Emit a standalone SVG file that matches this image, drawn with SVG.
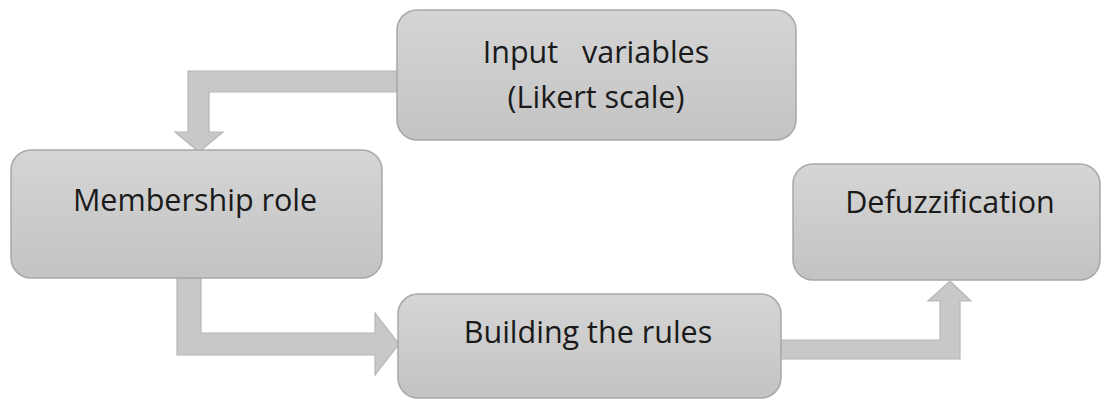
<svg xmlns="http://www.w3.org/2000/svg" width="1102" height="401" viewBox="0 0 1102 401">
  <defs>
    <linearGradient id="boxFill" x1="0" y1="0" x2="0" y2="1">
      <stop offset="0" stop-color="#d5d5d5"/>
      <stop offset="1" stop-color="#c3c3c3"/>
    </linearGradient>
    <style>
      .box { fill: url(#boxFill); stroke: #a8a8a8; stroke-width: 1.5; }
      .label { font-family: "Open Sans", "DejaVu Sans", sans-serif; font-size: 30.5px; fill: #1a1a1a; text-anchor: middle; white-space: pre; }
      .arrow { fill: #c8c8c8; stroke: #b6b6b6; stroke-width: 1.2; stroke-linejoin: miter; }
    </style>
  </defs>
  <rect width="1102" height="401" fill="#ffffff"/>

  <!-- block arrows between the stages -->
  <g id="connectors">
    <path class="arrow" d="M397,71 L188,71 L188,132 L175,132 L199,152 L223,132 L209,132 L209,92 L397,92 Z"/>
    <path class="arrow" d="M177,278 L177,355 L375,355 L375,375 L399,344 L375,313 L375,333 L201,333 L201,278 Z"/>
    <path class="arrow" d="M781,340 L940,340 L940,301 L928,301 L950,281 L971,301 L960,301 L960,359 L781,359 Z"/>
  </g>

  <g id="input-variables">
    <rect class="box" x="397" y="10" width="399" height="130" rx="20"/>
    <text class="label" x="596" y="63" xml:space="preserve">Input   variables</text>
    <text class="label" x="596" y="108">(Likert scale)</text>
  </g>

  <g id="membership-role">
    <rect class="box" x="11" y="150" width="371" height="128" rx="20"/>
    <text class="label" x="195" y="211">Membership role</text>
  </g>

  <g id="building-rules">
    <rect class="box" x="398" y="294" width="383" height="104" rx="20"/>
    <text class="label" x="588" y="343">Building the rules</text>
  </g>

  <g id="defuzzification">
    <rect class="box" x="793" y="164" width="307" height="116" rx="20"/>
    <text class="label" x="950" y="213">Defuzzification</text>
  </g>
</svg>
